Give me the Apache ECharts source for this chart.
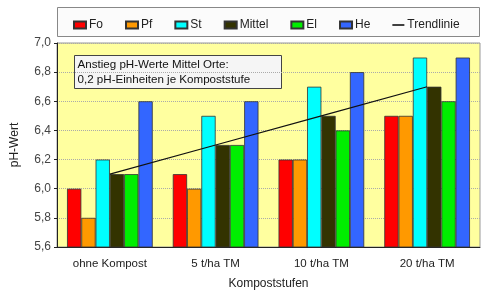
<!DOCTYPE html>
<html>
<head>
<meta charset="utf-8">
<script src="https://cdn.jsdelivr.net/npm/echarts@6/dist/echarts.min.js"></script>
<style>
html,body{margin:0;padding:0;background:#fff;}
#chart{width:482px;height:295px;}
</style>
</head>
<body>
<div id="chart"></div>
<script>
// Kategorien und Werte
var stufen = ['ohne Kompost', '5 t/ha TM', '10 t/ha TM', '20 t/ha TM'];
var fo     = [6.0, 6.1, 6.2, 6.5];
var pf     = [5.8, 6.0, 6.2, 6.5];
var st     = [6.2, 6.5, 6.7, 6.9];
var mittel = [6.1, 6.3, 6.5, 6.7];
var el     = [6.1, 6.3, 6.4, 6.6];
var he     = [6.6, 6.6, 6.8, 6.9];
var trend  = [6.1, 6.3, 6.5, 6.7];

var font = 'Liberation Sans, Arial, sans-serif';

function bar(name, data, color){
	return {
		name: name,
		type: 'bar',
		data: data,
		barGap: 0,
		barCategoryGap: '19%',
		itemStyle: {color: color, borderColor: '#333', borderWidth: 0.8}
	};
}

var myChart = echarts.init(document.getElementById('chart'));
myChart.setOption({
	animation: false,
	textStyle: {fontFamily: font},
	grid: {left: 57, right: 2, top: 43, bottom: 45, show: true, backgroundColor: '#ffff9f', borderColor: '#999', borderWidth: 1},
	legend: {
		left: 68, top: 14, itemWidth: 12, itemHeight: 7, itemGap: 22,
		icon: 'rect',
		textStyle: {fontFamily: font, fontSize: 12, color: '#222', padding: [0, 0, 0, -2]},
		data: ['Fo', 'Pf', 'St', 'Mittel', 'El', 'He',
			{name: 'Trendlinie', icon: 'path://M0,0 L12,0 L12,1.6 L0,1.6 Z', itemStyle: {color: '#111'}}]
	},
	graphic: [
		{type: 'rect', left: 57, top: 7, shape: {width: 422, height: 29}, style: {fill: '#fbfbfb', stroke: '#888', lineWidth: 1}, z: -1},
		{type: 'group', left: 74, top: 55, children: [
			{type: 'rect', shape: {x: 0, y: 0, width: 207, height: 33}, style: {fill: '#f5f5f5', stroke: '#444', lineWidth: 1}},
			{type: 'text', x: 3, y: 2, style: {text: 'Anstieg pH-Werte Mittel Orte:\n0,2 pH-Einheiten je Kompoststufe', font: '11.6px ' + font, fill: '#111', lineHeight: 15}}
		]}
	],
	xAxis: {
		type: 'category',
		data: stufen,
		name: 'Kompoststufen',
		nameLocation: 'middle',
		nameGap: 31,
		nameTextStyle: {fontSize: 12, color: '#222'},
		axisLine: {lineStyle: {color: '#222'}},
		axisTick: {inside: true, length: 4, lineStyle: {color: '#222'}},
		axisLabel: {fontSize: 11.5, color: '#222', margin: 11}
	},
	yAxis: {
		type: 'value',
		min: 5.6, max: 7.0, interval: 0.2,
		name: 'pH-Wert',
		nameLocation: 'middle',
		nameGap: 36,
		nameRotate: 90,
		nameTextStyle: {fontSize: 12, color: '#222'},
		axisLine: {show: true, lineStyle: {color: '#222'}},
		axisTick: {show: true, length: 3, lineStyle: {color: '#222'}},
		axisLabel: {fontSize: 12, color: '#444', margin: 6, formatter: function(v){ return v.toFixed(1).replace('.', ','); }},
		splitLine: {lineStyle: {color: '#aaa', type: 'dotted'}}
	},
	series: [
		bar('Fo', fo, '#ff0000'),
		bar('Pf', pf, '#ff9900'),
		bar('St', st, '#00ffff'),
		bar('Mittel', mittel, '#333300'),
		bar('El', el, '#00ee00'),
		bar('He', he, '#3366ff'),
		{
			name: 'Trendlinie',
			type: 'line',
			data: trend,
			symbol: 'none',
			z: 5,
			itemStyle: {color: '#111'},
			lineStyle: {color: '#111', width: 1.2}
		}
	]
});
</script>
</body>
</html>
